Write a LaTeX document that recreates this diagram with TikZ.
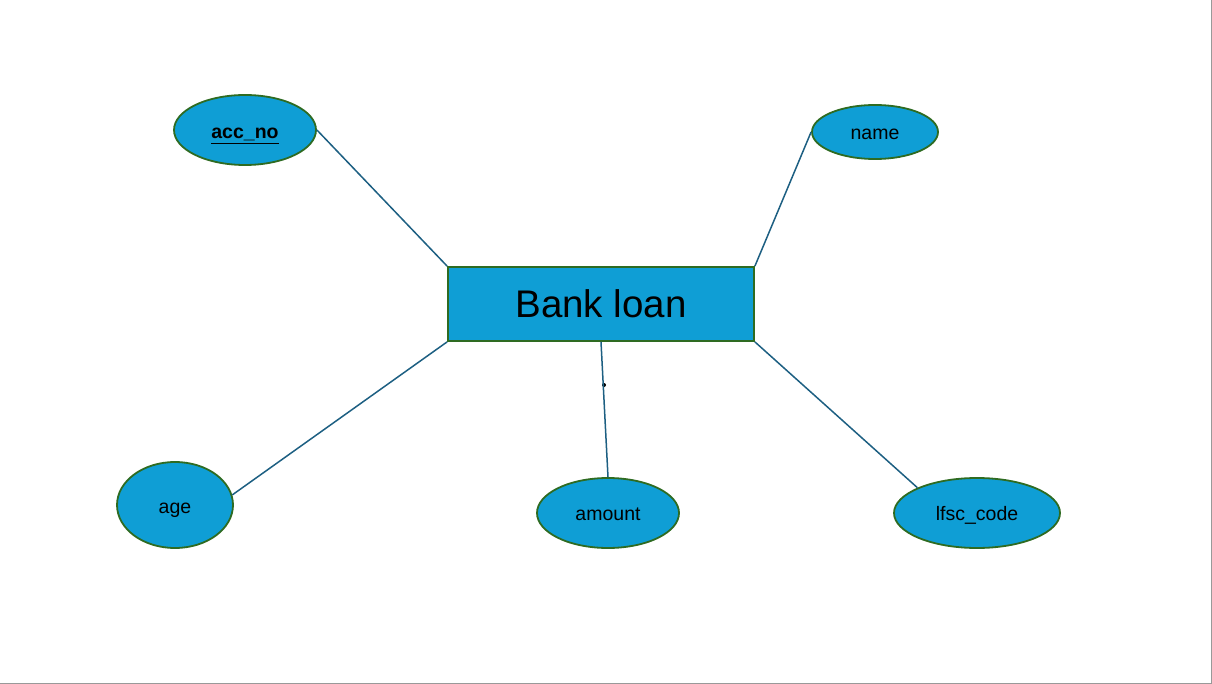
\documentclass[tikz,border=0pt]{standalone}
\usepackage{fontspec}
\setmainfont{Liberation Sans}
\usetikzlibrary{shapes.geometric}
\definecolor{fillblue}{HTML}{0F9ED5}
\definecolor{edgegreen}{HTML}{2E6B22}
\definecolor{linkblue}{HTML}{1D5F82}
\begin{document}
\begin{tikzpicture}[x=1pt,y=-1pt,
  attr/.style={ellipse,draw=edgegreen,fill=fillblue,line width=1.8pt,inner sep=0pt,text depth=0pt,font=\fontsize{19.5}{20}\selectfont},
  entity/.style={rectangle,draw=edgegreen,fill=fillblue,line width=1.8pt,inner sep=0pt,font=\fontsize{38.5}{40}\selectfont},
  link/.style={draw=linkblue,line width=1.5pt},
  lbl/.style={inner sep=0pt,font=\fontsize{19.5}{20}\selectfont}]
\useasboundingbox (0,0) rectangle (1212,684);
\draw[gray!80,line width=1pt] (1211,0) -- (1211,683) -- (0,683);
\node[entity,minimum width=306pt,minimum height=74pt] (bank) at (601,304) {Bank loan};
\node[attr,minimum width=142pt,minimum height=70pt] (acc) at (245,130) {};
\node[attr,minimum width=126pt,minimum height=54pt] (name) at (875,132) {};
\node[attr,minimum width=116pt,minimum height=86pt] (age) at (175,505) {};
\node[attr,minimum width=142pt,minimum height=70pt] (amount) at (608,513) {};
\node[attr,minimum width=166pt,minimum height=70pt] (lfsc) at (977,513) {};
\node[lbl,anchor=base] (accl) at (245,139) {\textbf{\underline{acc\_no}}};
\node[lbl,anchor=base] (namel) at (875,140) {name};
\node[lbl,anchor=base] (agel) at (175,513) {age};
\node[lbl,anchor=base] (amountl) at (608,520) {amount};
\node[lbl,anchor=base] (lfscl) at (977,520) {lfsc\_code};
\node[circle,fill=black,inner sep=0pt,minimum size=4pt] (dot) at (604,385) {};
\draw[link] (acc.east) -- (bank.north west);
\draw[link] (name.west) -- (bank.north east);
\draw[link] (age.10) -- (bank.south west);
\draw[link] (bank.south) -- (amount.north);
\draw[link] (bank.south east) -- (lfsc.157);
\end{tikzpicture}
\end{document}
